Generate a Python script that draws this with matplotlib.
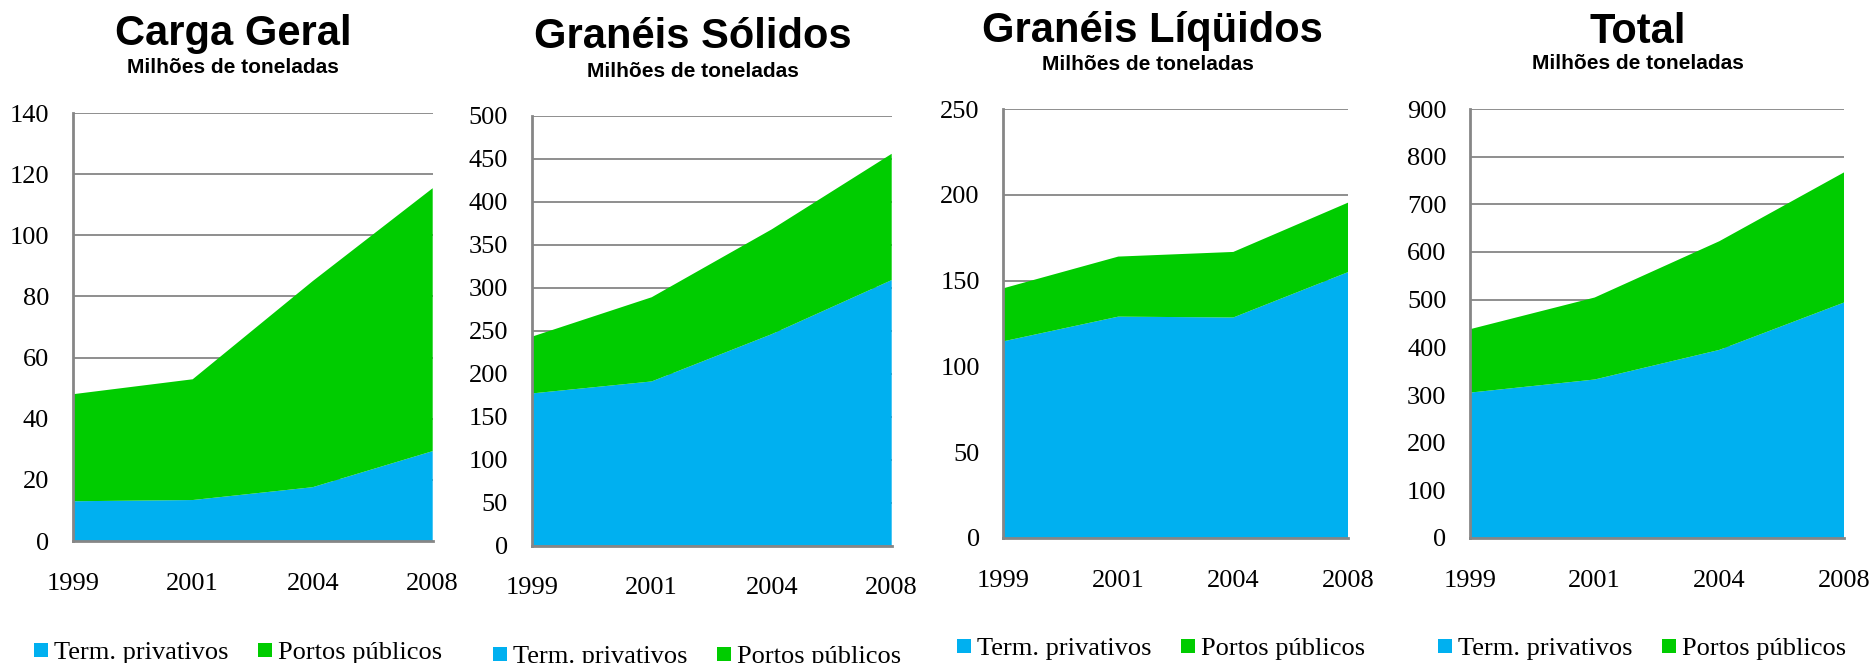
import matplotlib
matplotlib.use("Agg")
import matplotlib.pyplot as plt

# anos e valores (milhões de toneladas)
anos = ['1999', '2001', '2004', '2008']

carga_priv = [13.0, 13.4, 17.6, 29.4]
carga_pub = [35.0, 39.5, 67.4, 86.0]

solidos_priv = [177, 191, 246, 309]
solidos_pub = [66, 98, 122, 147]

liquidos_priv = [114.6, 129.0, 128.5, 155.0]
liquidos_pub = [30.9, 35.0, 38.2, 40.5]

total_priv = [305, 332.5, 394.6, 494]
total_pub = [133, 172, 228, 273]

titulos = ['Carga Geral', 'Granéis Sólidos', 'Granéis Líqüidos', 'Total']
subtitulo = 'Milhões de toneladas'
series = ['Term. privativos', 'Portos públicos']
limites = [140, 500, 250, 900]
passos = [20, 50, 50, 100]

# layout em pixels (figura 1873 x 663)
W, H = 1873, 663
caixas = [(72.7, 432.7, 113, 541), (531.7, 891.7, 116, 545.5),
          (1003.3, 1348.3, 109, 538), (1470, 1844, 109, 538)]
# posições (x centro, y linha de base)
pos_titulo = [(233, 45), (693, 48), (1152, 42), (1638, 43)]
pos_sub = [(233, 73), (693, 77), (1148, 70), (1638, 69)]
pos_legenda = [(238, 653), (697, 657), (1161, 649), (1642, 649)]

azul = '#00B0F0'
verde = '#00CC00'
cinza = '#868686'

dados = [(carga_priv, carga_pub), (solidos_priv, solidos_pub),
         (liquidos_priv, liquidos_pub), (total_priv, total_pub)]

fig = plt.figure(figsize=(W / 100, H / 100), dpi=100)

for i, (priv, pub) in enumerate(dados):
    x0, x1, yt, yb = caixas[i]
    ax = fig.add_axes([x0 / W, 1 - yb / H, (x1 - x0) / W, (yb - yt) / H])
    x = list(range(len(anos)))
    areas = ax.stackplot(x, priv, pub, colors=[azul, verde], labels=series, linewidth=0)
    ax.set_xlim(0, len(anos) - 1)
    ax.set_ylim(0, limites[i])
    ax.set_yticks(range(0, limites[i] + 1, passos[i]))
    ax.set_xticks(x)
    ax.set_xticklabels(anos)
    ax.set_axisbelow(True)
    ax.yaxis.grid(True, color=cinza, linewidth=1.3)
    ax.xaxis.grid(False)
    for lado in ['top', 'right']:
        ax.spines[lado].set_visible(False)
    for lado in ['left', 'bottom']:
        ax.spines[lado].set_color(cinza)
        ax.spines[lado].set_linewidth(2)
        ax.spines[lado].set_zorder(3)
    ax.tick_params(axis='y', length=0, pad=17, labelsize=19)
    ax.tick_params(axis='x', length=0, pad=23, labelsize=19)
    for lab in ax.get_xticklabels() + ax.get_yticklabels():
        lab.set_fontfamily('Liberation Serif')

    tx, ty = pos_titulo[i]
    fig.text(tx / W, 1 - ty / H, titulos[i], ha='center', va='baseline',
             fontsize=30, fontweight='bold', family='Liberation Sans')
    sx, sy = pos_sub[i]
    fig.text(sx / W, 1 - sy / H, subtitulo, ha='center', va='baseline',
             fontsize=15, fontweight='bold', family='Liberation Sans')

    lx, ly = pos_legenda[i]
    ax.legend(handles=areas, labels=series, loc='center', ncol=2,
              bbox_to_anchor=(lx / W, 1 - ly / H), bbox_transform=fig.transFigure,
              frameon=False, prop={'family': 'Liberation Serif', 'size': 19},
              handlelength=0.53, handleheight=0.45, handletextpad=0.23,
              columnspacing=1.1, borderpad=0, borderaxespad=0)

fig.savefig('out.png', dpi=100)
